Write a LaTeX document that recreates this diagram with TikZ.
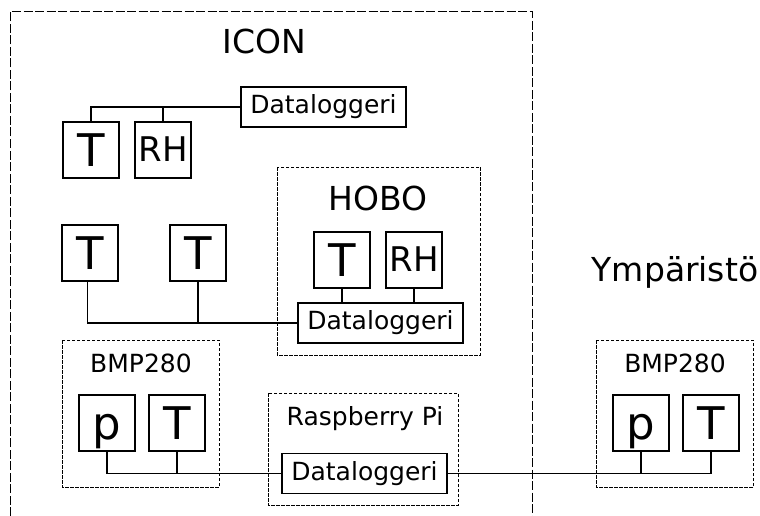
\documentclass[tikz,border=0pt]{standalone}
\usepackage{fontspec}
\setmainfont{DejaVu Sans}
\begin{document}
\begin{tikzpicture}[x=1pt,y=-1pt,
  sensor/.style={draw,line width=1.1pt,minimum width=56pt,minimum height=56pt,inner sep=0pt,text height=33pt,text depth=0pt,font=\fontsize{45}{50}\selectfont},
  sensorsm/.style={sensor,text height=25pt,text depth=3pt,font=\fontsize{34}{40}\selectfont},
  logger/.style={draw,line width=1.1pt,minimum width=165pt,minimum height=40pt,inner sep=0pt,font=\fontsize{25}{30}\selectfont},
  grp/.style={draw,line width=1pt,dash pattern=on 3.5pt off 1.5pt},
  outer/.style={draw,line width=1pt,dash pattern=on 9pt off 2.5pt},
  conn/.style={draw,line width=1.3pt},
  biglabel/.style={anchor=base,inner sep=0pt,font=\fontsize{33}{40}\selectfont},
  smlabel/.style={anchor=base,inner sep=0pt,font=\fontsize{25}{30}\selectfont}]
\useasboundingbox (0,0) rectangle (760,516);
% outer ICON box (open at bottom)
\draw[outer] (10,516) -- (10,12) -- (532,12) -- (532,516);
\node[biglabel] (icon) at (264,54) {ICON};
% top group
\node[logger] (dlA) at (323.5,107) {Dataloggeri};
\node[sensor] (tA) at (91,150) {T};
\node[sensorsm] (rhA) at (163,150) {RH};
\draw[conn] (tA.north) |- (dlA.west);
\draw[conn] (rhA.north) -- (rhA.north |- dlA.west);
% HOBO
\draw[grp] (277,167) rectangle (480,355);
\node[biglabel] (hobo) at (378,210) {HOBO};
\node[sensor] (tH) at (342,260) {T};
\node[sensorsm] (rhH) at (414,260) {RH};
\node[logger] (dlB) at (380.5,323) {Dataloggeri};
\draw[conn] (tH.south) -- (tH.south |- dlB.north);
\draw[conn] (rhH.south) -- (rhH.south |- dlB.north);
% row T sensors
\node[sensor] (tB) at (90,253) {T};
\node[sensor] (tC) at (198,253) {T};
\draw[conn] ([xshift=-2.5pt]tB.south) |- (dlB.west);
\draw[conn] (tC.south) -- (tC.south |- dlB.west);
% BMP280 left
\draw[grp] (62,340) rectangle (219,487);
\node[smlabel] (bmpL) at (141,372) {BMP280};
\node[sensor] (pL) at (107,423) {p};
\node[sensor] (tL) at (177,423) {T};
% Raspberry Pi
\draw[grp] (268,393) rectangle (458,505);
\node[smlabel] (rpi) at (365,425) {Raspberry Pi};
\node[logger] (dlC) at (364.5,473.5) {Dataloggeri};
\draw[conn] (pL.south) |- (dlC.west);
\draw[conn] (tL.south) -- (tL.south |- dlC.west);
% Ymparisto
\node[biglabel] (ymp) at (675,281) {Ympäristö};
\draw[grp] (596,340) rectangle (753,487);
\node[smlabel] (bmpR) at (675,372) {BMP280};
\node[sensor] (pR) at (641,423) {p};
\node[sensor] (tR) at (711,423) {T};
\draw[conn] (dlC.east) -| (tR.south);
\draw[conn] (pR.south) -- (pR.south |- dlC.east);
\end{tikzpicture}
\end{document}
